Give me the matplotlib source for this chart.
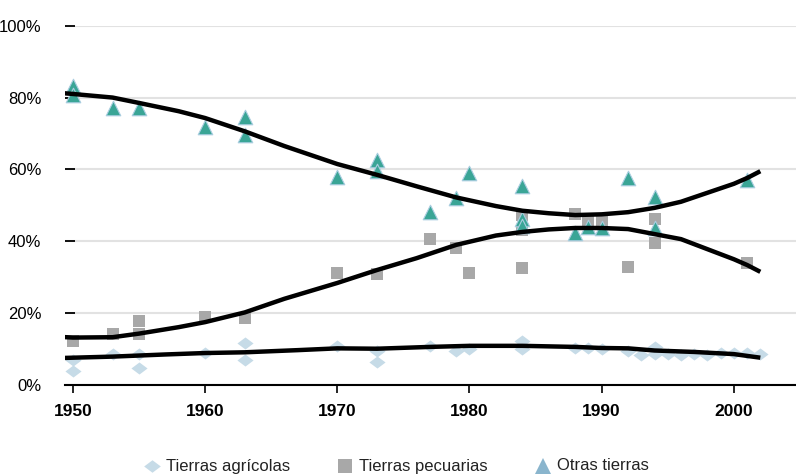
import matplotlib
matplotlib.use("Agg")
import matplotlib.pyplot as plt
from matplotlib.lines import Line2D

# scatter observations (year, percent)
agri_years = [1950, 1950, 1953, 1955, 1955, 1960, 1963, 1963, 1970, 1973, 1973, 1977, 1979, 1980,
              1984, 1984, 1988, 1989, 1990, 1992, 1993, 1994, 1994, 1995, 1996, 1997, 1998, 1999,
              2000, 2001, 2002]
agri_vals = [7.0, 3.9, 8.6, 8.6, 4.7, 8.9, 11.7, 7.0, 10.9, 9.5, 6.4, 10.9, 9.5, 10.0,
             12.2, 10.0, 10.3, 10.3, 10.0, 9.5, 8.4, 10.6, 8.6, 8.6, 8.4, 8.6, 8.4, 8.9,
             8.9, 8.9, 8.6]

pec_years = [1950, 1953, 1955, 1955, 1960, 1963, 1970, 1973, 1977, 1979, 1980, 1984, 1984, 1984,
             1988, 1989, 1990, 1992, 1994, 1994, 2001]
pec_vals = [12.3, 14.2, 17.8, 14.2, 19.0, 18.6, 31.2, 30.9, 40.6, 38.1, 31.2, 47.3, 43.1, 32.6,
            47.6, 45.4, 45.9, 32.8, 46.2, 39.5, 34.0]

otras_years = [1950, 1950, 1953, 1955, 1960, 1963, 1963, 1970, 1973, 1973, 1977, 1979, 1980, 1984,
               1984, 1984, 1988, 1989, 1990, 1992, 1994, 1994, 2001]
otras_vals = [83.3, 80.8, 77.1, 77.1, 71.8, 74.6, 69.6, 57.9, 62.6, 59.6, 48.1, 52.0, 59.0, 55.4,
              46.2, 44.3, 42.3, 44.0, 43.7, 57.6, 52.3, 43.7, 57.1]

# smoothed trend lines
trend_otras_x = [1949, 1950, 1953, 1955, 1958, 1960, 1963, 1966, 1970, 1973, 1976, 1979, 1982,
                 1984, 1986, 1988, 1990, 1992, 1994, 1996, 1998, 2000, 2001, 2002]
trend_otras_y = [81.3, 81.0, 80.0, 78.5, 76.2, 74.3, 70.6, 66.5, 61.5, 58.5, 55.3, 52.2, 49.8,
                 48.5, 47.8, 47.3, 47.5, 48.1, 49.3, 51.0, 53.5, 56.0, 57.6, 59.5]

trend_pec_x = [1949, 1950, 1953, 1955, 1958, 1960, 1963, 1966, 1970, 1973, 1976, 1979, 1982,
               1984, 1986, 1988, 1990, 1992, 1994, 1996, 1998, 2000, 2001, 2002]
trend_pec_y = [13.4, 13.2, 13.3, 14.3, 16.1, 17.5, 20.2, 24.0, 28.4, 32.0, 35.3, 39.0, 41.6,
               42.6, 43.3, 43.7, 43.7, 43.4, 42.0, 40.6, 37.8, 35.0, 33.4, 31.5]

trend_agri_x = [1949, 1953, 1957, 1960, 1963, 1967, 1970, 1973, 1977, 1980, 1984, 1988, 1990,
                1992, 1994, 1997, 2000, 2002]
trend_agri_y = [7.5, 7.9, 8.5, 8.9, 9.1, 9.7, 10.2, 10.1, 10.6, 10.9, 10.9, 10.6, 10.3,
                10.2, 9.6, 9.2, 8.6, 7.6]

year_ticks = [1950, 1960, 1970, 1980, 1990, 2000]
pct_ticks = [0, 20, 40, 60, 80, 100]
legend_labels = ["Tierras agrícolas", "Tierras pecuarias", "Otras tierras"]

plt.rcParams["font.family"] = ["Liberation Sans", "DejaVu Sans"]

fig = plt.figure(figsize=(7.96, 4.76), dpi=100)
ax = fig.add_axes([65 / 796, 91 / 476, 731 / 796, 359.3 / 476])

diamond = [(-1, 0), (0, 0.75), (1, 0), (0, -0.75), (-1, 0)]
teal = "#3aa596"
lightblue = "#c6dbe7"
grey = "#a8a8a8"

ax.scatter(agri_years, agri_vals, marker=diamond, s=135, color=lightblue, lw=0, zorder=3)
ax.scatter(pec_years, pec_vals, marker="s", s=80, color=grey, lw=0, zorder=3)
ax.scatter(otras_years, otras_vals, marker="^", s=110, color=teal, edgecolors="#a9cde0",
           linewidths=0.8, zorder=3)

for tx, ty in [(trend_otras_x, trend_otras_y), (trend_pec_x, trend_pec_y),
               (trend_agri_x, trend_agri_y)]:
    ax.plot(tx, ty, color="black", lw=3.2, solid_capstyle="butt", zorder=4)

ax.set_xlim(1949.4, 2004.7)
ax.set_ylim(0, 100)
ax.set_xticks(year_ticks)
ax.set_xticklabels([str(y) for y in year_ticks], fontweight="bold", fontsize=12.5)
ax.set_yticks(pct_ticks)
ax.set_yticklabels([f"{p}%" for p in pct_ticks], fontsize=12)
ax.tick_params(axis="x", direction="out", length=6, width=1.2, pad=8)
ax.tick_params(axis="y", direction="in", length=7, width=1.3, pad=17)
ax.grid(axis="y", color="#e2e2e2", lw=1.5)
ax.set_axisbelow(True)
for s in ["top", "right", "left"]:
    ax.spines[s].set_visible(False)
ax.spines["bottom"].set_linewidth(1.5)

# legend row along the bottom edge
legend_marks = [(diamond, 12, lightblue), ("s", 10, grey), ("^", 12, "#8ab5cd")]
legend_x = [152 / 796, 345 / 796, 543 / 796]
y_leg = 10 / 476
for (m, ms, c), lx, lab in zip(legend_marks, legend_x, legend_labels):
    fig.add_artist(Line2D([lx], [y_leg], marker=m, ls="", markersize=ms, color=c, mew=0,
                          transform=fig.transFigure))
    fig.text(lx + 14 / 796, y_leg, lab, fontsize=12, va="center", ha="left", color="#222222")

fig.savefig("out.png", dpi=100)
